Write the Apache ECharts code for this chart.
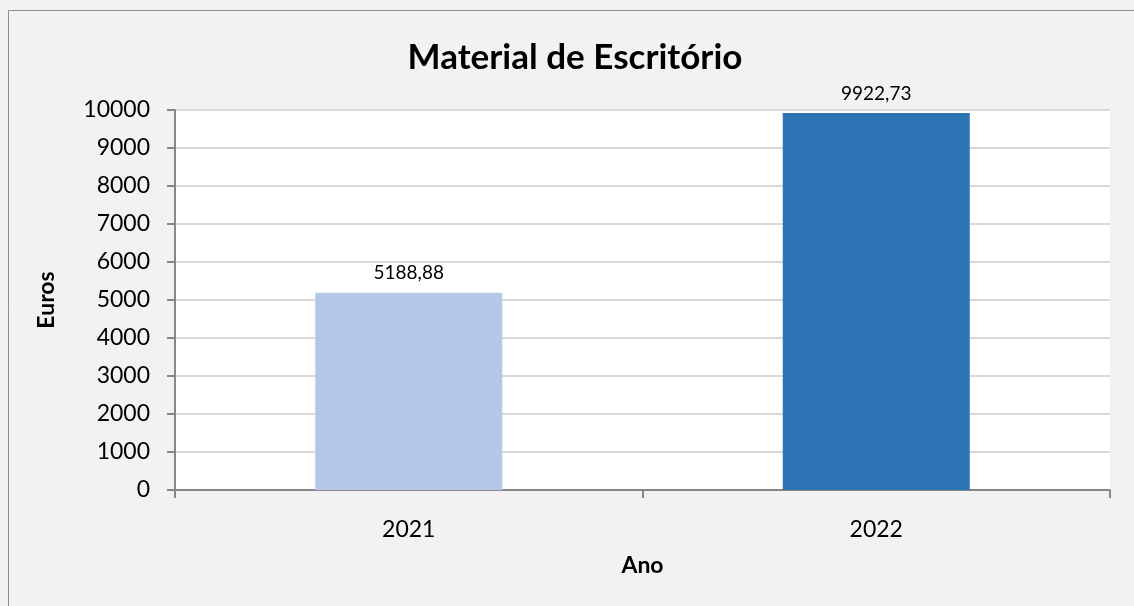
<!DOCTYPE html>
<html>
<head>
<meta charset="utf-8">
<script src="https://cdn.jsdelivr.net/npm/echarts@6/dist/echarts.min.js"></script>
<style>html,body{margin:0;padding:0;background:#f2f2f2;}#c{width:1134px;height:606px;}</style>
</head>
<body>
<div id="c"></div>
<script>
const categories = ['2021', '2022'];
const values = [5188.88, 9922.73];
const barColors = ['#b4c7e7', '#2e75b6'];
const yTicks = { min: 0, max: 10000, interval: 1000 };
const titleText = 'Material de Escritório';
const yName = 'Euros';
const xName = 'Ano';

const FONT = 'Lato';
const chart = echarts.init(document.getElementById('c'), null, { renderer: 'canvas' });
chart.setOption({
  backgroundColor: '#f2f2f2',
  animation: false,
  graphic: [{
    type: 'rect', shape: { x: 8.5, y: 10.5, width: 1200, height: 700 },
    style: { fill: 'none', stroke: '#8c8c8c', lineWidth: 1 }, z: -1, silent: true
  }],
  title: {
    text: titleText, left: 570, top: 35, textAlign: 'center',
    textStyle: { fontFamily: FONT, fontWeight: 'bold', fontSize: 35, color: '#000' }
  },
  grid: { left: 175, top: 110, right: 24, bottom: 116, show: true, backgroundColor: '#ffffff', borderWidth: 0 },
  xAxis: {
    type: 'category', data: categories, boundaryGap: true,
    name: xName, nameLocation: 'middle', nameGap: 64,
    nameTextStyle: { fontFamily: FONT, fontWeight: 'bold', fontSize: 23, color: '#000' },
    axisLine: { show: true, lineStyle: { color: '#878787', width: 2 } },
    axisTick: { show: true, alignWithLabel: false, length: 8, lineStyle: { color: '#878787', width: 2 } },
    axisLabel: { fontFamily: FONT, fontSize: 23, color: '#000', margin: 28 }
  },
  yAxis: {
    type: 'value', min: yTicks.min, max: yTicks.max, interval: yTicks.interval,
    name: yName, nameLocation: 'middle', nameGap: 117, nameRotate: 90,
    nameTextStyle: { fontFamily: FONT, fontWeight: 'bold', fontSize: 23, color: '#000' },
    axisLine: { show: true, lineStyle: { color: '#878787', width: 2 } },
    axisTick: { show: true, length: 8, lineStyle: { color: '#878787', width: 2 } },
    axisLabel: { fontFamily: FONT, fontSize: 23, color: '#000', margin: 25, formatter: v => String(v) },
    splitLine: { show: true, lineStyle: { color: '#d9d9d9', width: 2 } }
  },
  series: [{
    type: 'bar', barWidth: '40%',
    data: values.map((v, i) => ({ value: v, itemStyle: { color: barColors[i] } })),
    label: {
      show: true, position: 'top', distance: 10,
      fontFamily: FONT, fontSize: 19, color: '#000',
      formatter: p => p.value.toFixed(2).replace('.', ',')
    }
  }]
});
</script>
</body>
</html>
